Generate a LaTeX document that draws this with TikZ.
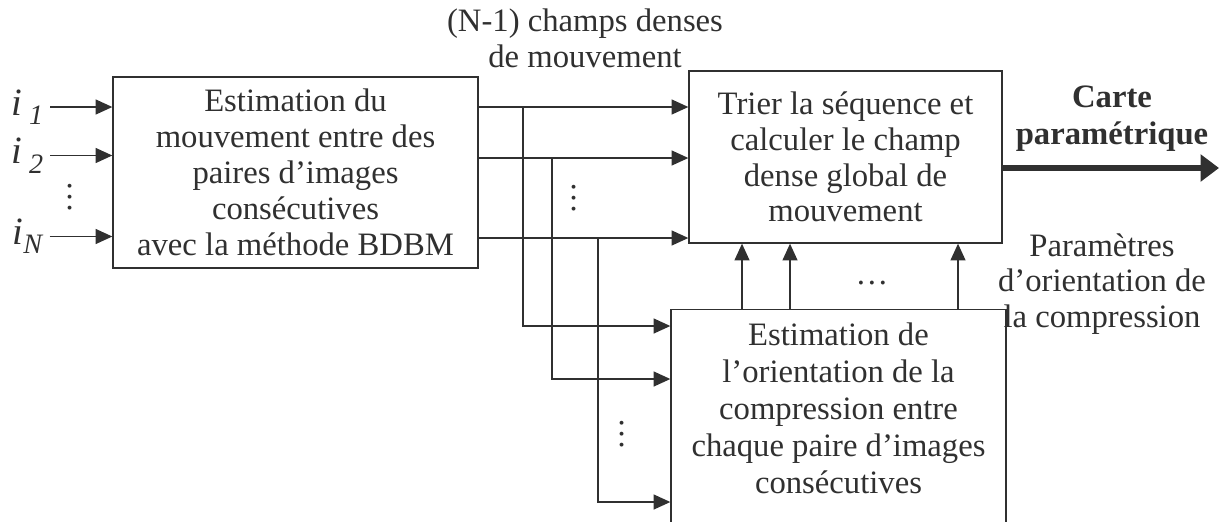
\documentclass[tikz,border=0pt]{standalone}
\usepackage{xcolor}
\usepackage{fontspec}
\setmainfont{Liberation Serif}
\usetikzlibrary{arrows.meta, positioning}
\definecolor{trait}{HTML}{303030}

\begin{document}
\begin{tikzpicture}[
  x=0.02cm, y=-0.02cm,
  every node/.style={font=\fontsize{18.6}{20.4}\selectfont, text=trait},
  bloc/.style={rectangle, draw=trait, line width=0.8pt, align=center, inner sep=0pt},
  fl/.style={draw=trait, line width=0.8pt, -{Triangle[length=9.5pt, width=8.5pt]}},
  entree/.style={font=\fontsize{22}{22}\selectfont\itshape, inner xsep=4pt, inner ysep=0pt}
]
  \useasboundingbox (0,0) rectangle (1219,521);
  \clip (0,0) rectangle (1219,521);

  % blocs
  \node[bloc, minimum width=7.3cm, minimum height=3.82cm] (estim) at (295.5,172.5)
    {Estimation du\\mouvement entre des\\paires d’images\\consécutives\\avec la méthode BDBM};
  \node[bloc, minimum width=6.26cm, minimum height=3.44cm] (trier) at (845.5,157)
    {Trier la séquence et\\calculer le champ\\dense global de\\mouvement};
  \node[bloc, anchor=north, minimum width=6.7cm, inner ysep=0.26cm,
        font=\fontsize{18.6}{21.1}\selectfont] (orient) at (838.5,309)
    {Estimation de\\l’orientation de la\\compression entre\\chaque paire d’images\\consécutives\rule[-4cm]{0pt}{4cm}};

  % entrees
  \node[entree] (i1) at (27.5,107) {i\,\raisebox{-5pt}{\fontsize{16}{16}\selectfont 1}};
  \node[entree] (i2) at (27.5,155.5) {i\,\raisebox{-5.5pt}{\fontsize{16}{16}\selectfont 2}};
  \node[entree] (iN) at (27.5,236.5) {i\raisebox{-5pt}{\fontsize{16}{16}\selectfont N}};
  \node (vd0) at (70,197) {\rotatebox{90}{…}};

  % textes
  \node[align=center] (champs) at (585,38) {(N-1) champs denses\\de mouvement};
  \node[align=center, font=\bfseries\fontsize{18.6}{21}\selectfont] (carte) at (1112,119) {Carte\\paramétrique};
  \node[align=center] (param) at (1102,284) {Paramètres\\d’orientation de\\la compression};
  \node (vd1) at (574,198) {\rotatebox{90}{…}};
  \node (vd2) at (622,434) {\rotatebox{90}{…}};
  \node (hd) at (872,283) {…};

  % fleches
  \foreach \n in {i1,i2,iN}
    \draw[fl] (\n) -- (estim.west |- \n);
  \foreach \y in {107,158,238}
    \draw[fl] (estim.east |- 0,\y) -- (trier.west |- 0,\y);
  \foreach \x/\ya/\yb in {523/107/326, 552/158/379, 598/238/502}
    \draw[fl] (\x,\ya) |- (orient.west |- 0,\yb);
  \foreach \x in {742,790,958}
    \draw[fl] (orient.north -| \x,0) -- (trier.south -| \x,0);

  \coordinate (sortie) at (1219,168);
  \draw[draw=trait, line width=3.5pt, -{Triangle[length=10.5pt, width=15pt]}] (trier.east |- sortie) -- (sortie);
\end{tikzpicture}
\end{document}
